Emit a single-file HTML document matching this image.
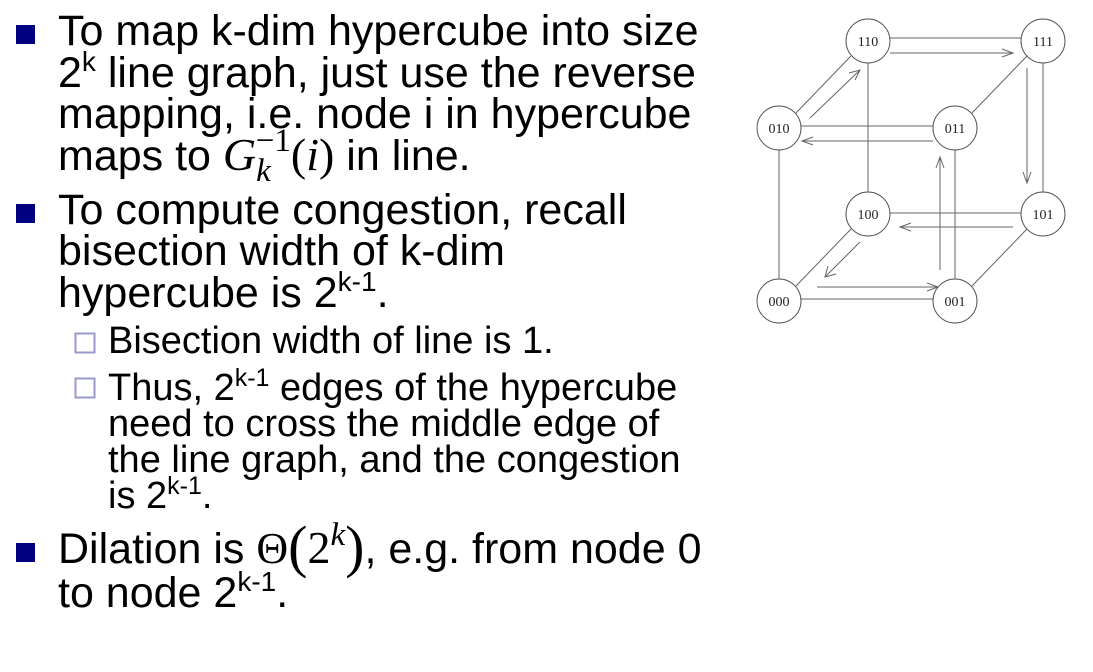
<!DOCTYPE html>
<html><head><meta charset="utf-8"><style>
html,body{margin:0;padding:0;background:#fff;width:1093px;height:672px;overflow:hidden}
svg{display:block}
.t{font-family:"Liberation Sans",Arial,sans-serif;font-size:43px;fill:#000}
.s{font-family:"Liberation Sans",Arial,sans-serif;font-size:38px;fill:#000}
.m{font-family:"Liberation Serif","DejaVu Serif",serif;font-style:italic}
.n{font-family:"Liberation Serif",serif;font-size:14px;fill:#222}
</style></head><body>
<svg width="1093" height="672" viewBox="0 0 1093 672" xmlns="http://www.w3.org/2000/svg">
<rect x="16" y="25" width="19" height="19" fill="#000080"/>
<rect x="16" y="204" width="19" height="19" fill="#000080"/>
<rect x="16" y="543" width="19" height="19" fill="#000080"/>
<rect x="75.5" y="333.5" width="19" height="19" fill="none" stroke="#9a9acc" stroke-width="2"/>
<rect x="75.5" y="378.5" width="19" height="19" fill="none" stroke="#9a9acc" stroke-width="2"/>

<text class="t" x="58" y="45">To map k-dim hypercube into size</text>
<text class="t" x="58" y="87">2<tspan font-size="28" dy="-16">k</tspan><tspan dy="16"> line graph, just use the reverse</tspan></text>
<text class="t" x="58" y="128">mapping, i.e. node i in hypercube</text>
<text class="t" x="58" y="170">maps to <tspan class="m" font-size="46">G</tspan><tspan class="m" font-size="33" dy="11">k</tspan><tspan font-family="Liberation Serif,serif" font-size="33" dx="-15" dy="-30">−1</tspan><tspan font-family="Liberation Serif,serif" font-size="46" dy="19">(</tspan><tspan class="m" font-size="46">i</tspan><tspan font-family="Liberation Serif,serif" font-size="46">)</tspan> in line.</text>

<text class="t" x="58" y="224">To compute congestion, recall</text>
<text class="t" x="58" y="265">bisection width of k-dim</text>
<text class="t" x="58" y="307">hypercube is 2<tspan font-size="28" dy="-16">k-1</tspan><tspan dy="16">.</tspan></text>

<text class="s" x="108" y="353">Bisection width of line is 1.</text>
<text class="s" x="108" y="400">Thus, 2<tspan font-size="25" dy="-14">k-1</tspan><tspan dy="14"> edges of the hypercube</tspan></text>
<text class="s" x="108" y="436">need to cross the middle edge of</text>
<text class="s" x="108" y="472">the line graph, and the congestion</text>
<text class="s" x="108" y="508">is 2<tspan font-size="25" dy="-14">k-1</tspan><tspan dy="14">.</tspan></text>

<text class="t" x="58" y="563">Dilation is <tspan font-family="Liberation Serif,serif" font-size="44">Θ</tspan><tspan font-family="Liberation Serif,serif" font-size="58" dy="3">(</tspan><tspan font-family="Liberation Serif,serif" font-size="46" dy="-3">2</tspan><tspan class="m" font-size="33" dy="-18">k</tspan><tspan font-family="Liberation Serif,serif" font-size="58" dy="21">)</tspan><tspan dy="-3">, e.g. from node 0</tspan></text>
<text class="t" x="58" y="607">to node 2<tspan font-size="28" dy="-16">k-1</tspan><tspan dy="16">.</tspan></text>

<g stroke="#666" stroke-width="1" fill="none">
<line x1="890" y1="38" x2="1021" y2="38"/>
<line x1="801" y1="126" x2="933" y2="126"/>
<line x1="890" y1="213" x2="1021" y2="213"/>
<line x1="801" y1="299" x2="933" y2="299"/>
<line x1="779" y1="150" x2="779" y2="279"/>
<line x1="868" y1="63" x2="868" y2="192"/>
<line x1="955" y1="150" x2="955" y2="279"/>
<line x1="1043" y1="63" x2="1043" y2="192"/>
<line x1="796" y1="113" x2="851" y2="56"/>
<line x1="972" y1="113" x2="1027" y2="56"/>
<line x1="796" y1="286" x2="851" y2="229"/>
<line x1="972" y1="286" x2="1027" y2="229"/>
<line x1="890" y1="53" x2="1013" y2="53"/><polyline points="1002,49 1013,53 1002,57"/>
<line x1="1027" y1="68" x2="1027" y2="183"/><polyline points="1023,172 1027,183 1031,172"/>
<line x1="933" y1="141" x2="802" y2="141"/><polyline points="813,137 802,141 813,145"/>
<line x1="810" y1="118" x2="860" y2="70"/><polyline points="849,73 860,70 855,80"/>
<line x1="1013" y1="227" x2="900" y2="227"/><polyline points="911,223 900,227 911,231"/>
<line x1="860" y1="242" x2="825" y2="277"/><polyline points="828,266 825,277 836,274"/>
<line x1="817" y1="287" x2="938" y2="287"/><polyline points="927,283 938,287 927,291"/>
<line x1="940" y1="270" x2="940" y2="157"/><polyline points="936,168 940,157 944,168"/>
</g>
<g stroke="#555" stroke-width="1" fill="#fff">
<circle cx="868" cy="41" r="22"/><circle cx="1043" cy="41" r="22"/>
<circle cx="779" cy="128" r="22"/><circle cx="955" cy="128" r="22"/>
<circle cx="868" cy="214" r="22"/><circle cx="1043" cy="214" r="22"/>
<circle cx="779" cy="301" r="22"/><circle cx="955" cy="301" r="22"/>
</g>
<g class="n" text-anchor="middle">
<text x="868" y="46">110</text><text x="1043" y="46">111</text>
<text x="779" y="133">010</text><text x="955" y="133">011</text>
<text x="868" y="219">100</text><text x="1043" y="219">101</text>
<text x="779" y="306">000</text><text x="955" y="306">001</text>
</g>
</svg>
</body></html>
